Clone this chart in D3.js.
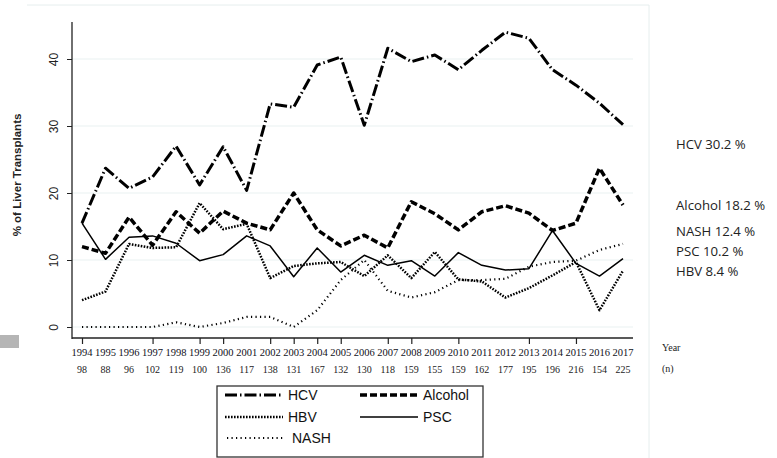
<!DOCTYPE html>
<html>
<head>
	<meta charset="utf-8"/>
	<title>Liver transplant indications</title>
	<script src="https://cdn.jsdelivr.net/npm/d3@7/dist/d3.min.js"></script>
	<style>
		body { margin: 0; background: #fff; }
		svg { display: block; }
	</style>
</head>
<body>
<div id="chart"></div>
<script>
	// years and number of transplants per year (n)
	var years = d3.range(1994, 2018);
	var nPerYear = [98, 88, 96, 102, 119, 100, 136, 117, 138, 131, 167, 132,
		130, 118, 159, 155, 159, 162, 177, 195, 196, 216, 154, 225];
	var tickedYears = [1994, 1997, 1999, 2000, 2002, 2003, 2004, 2005, 2007, 2008, 2010, 2013, 2015];
	var yTicks = [0, 10, 20, 30, 40];

	// % of liver transplants
	var hcv = [15.5, 23.7, 20.7, 22.4, 27.0, 21.2, 26.9, 20.4, 33.3, 32.8, 39.1, 40.3,
		30.1, 41.6, 39.6, 40.6, 38.4, 41.3, 44.0, 43.1, 38.4, 36.1, 33.4, 30.2];
	var alcohol = [12.0, 11.0, 16.4, 12.2, 17.2, 14.0, 17.3, 15.5, 14.5, 20.0, 14.5, 12.1,
		13.7, 11.8, 18.7, 16.9, 14.5, 17.2, 18.1, 17.0, 14.4, 15.5, 23.7, 18.2];
	var hbv = [4.0, 5.3, 12.4, 11.8, 11.9, 18.5, 14.6, 15.4, 7.3, 9.1, 9.5, 9.7,
		7.6, 10.7, 7.3, 11.2, 7.1, 6.8, 4.4, 5.8, 7.7, 9.7, 2.5, 8.4];
	var psc = [15.5, 10.1, 13.4, 13.6, 12.5, 9.9, 10.8, 13.6, 12.1, 7.5, 11.8, 8.2,
		10.7, 9.2, 9.9, 7.6, 11.1, 9.2, 8.5, 8.7, 14.4, 9.5, 7.6, 10.2];
	var nash = [0, 0, 0, 0, 0.7, 0, 0.6, 1.5, 1.5, 0, 2.5, 7.0,
		10.0, 5.4, 4.4, 5.2, 7.0, 7.0, 7.2, 9.0, 9.7, 9.9, 11.5, 12.4];

	var endLabels = ["HCV 30.2 %", "Alcohol 18.2 %", "NASH 12.4 %", "PSC 10.2 %", "HBV 8.4 %"];

	var series = [
		{ name: "HCV", values: hcv, width: 3, dash: "12,3,1.5,3" },
		{ name: "Alcohol", values: alcohol, width: 3.5, dash: "7,3" },
		{ name: "HBV", values: hbv, width: 2.5, dash: "1.6,1.4" },
		{ name: "PSC", values: psc, width: 1.5, dash: null },
		{ name: "NASH", values: nash, width: 2.2, dash: "1.2,3.3" }
	];

	var width = 777, height = 458;

	var svg = d3.select("#chart").append("svg")
		.attr("width", width)
		.attr("height", height);

	var x = d3.scaleLinear().domain([1994, 2017]).range([82, 623]);
	var y = d3.scaleLinear().domain([0, 40]).range([327, 59]);

	// outer plot region frame (faint)
	svg.append("line").attr("x1", 27).attr("x2", 649).attr("y1", 5).attr("y2", 5)
		.attr("stroke", "#e6eeee").attr("stroke-width", 1);
	svg.append("line").attr("x1", 649).attr("x2", 649).attr("y1", 5).attr("y2", height)
		.attr("stroke", "#e6eeee").attr("stroke-width", 1);

	// odd grey block on the left edge
	svg.append("rect").attr("x", 0).attr("y", 335).attr("width", 19).attr("height", 13)
		.attr("fill", "#b5b5b5");

	// gridlines
	svg.append("g").selectAll("line").data(yTicks).join("line")
		.attr("x1", 72).attr("x2", 633)
		.attr("y1", function(d) { return y(d); })
		.attr("y2", function(d) { return y(d); })
		.attr("stroke", "#e9f1f1").attr("stroke-width", 1.2);

	// y axis
	var yAxis = svg.append("g")
		.attr("transform", "translate(72,0)")
		.call(d3.axisLeft(y).tickValues(yTicks).tickSize(5).tickPadding(6));
	yAxis.select(".domain").remove();
	yAxis.selectAll(".tick line").attr("stroke", "#222");
	// rotated tick labels
	yAxis.selectAll(".tick text")
		.attr("font-family", "Liberation Sans, Arial, sans-serif")
		.attr("font-size", 12)
		.attr("fill", "#222")
		.attr("text-anchor", "middle")
		.attr("transform", "translate(-14,0) rotate(-90)")
		.attr("x", 0).attr("y", 0).attr("dy", "0");
	svg.append("line")
		.attr("x1", 72).attr("x2", 72)
		.attr("y1", 22).attr("y2", 339)
		.attr("stroke", "#222").attr("stroke-width", 1.3);

	// y axis title
	svg.append("text")
		.attr("transform", "translate(21,175) rotate(-90)")
		.attr("text-anchor", "middle")
		.attr("font-family", "Liberation Sans, Arial, sans-serif")
		.attr("font-size", 11.5)
		.attr("font-weight", "bold")
		.attr("fill", "#222")
		.text("% of Liver Transplants");

	// x axis
	var xAxis = svg.append("g")
		.attr("transform", "translate(0,338)")
		.call(d3.axisBottom(x).tickValues(tickedYears).tickSize(6).tickFormat(""));
	xAxis.select(".domain").remove();
	xAxis.selectAll(".tick line").attr("stroke", "#222").attr("stroke-width", 1.2);
	svg.append("line")
		.attr("x1", 72).attr("x2", 633)
		.attr("y1", 338).attr("y2", 338)
		.attr("stroke", "#222").attr("stroke-width", 1.4);

	// year and n labels
	svg.append("g").selectAll("text").data(years).join("text")
		.attr("x", function(d) { return x(d); })
		.attr("y", 356)
		.attr("text-anchor", "middle")
		.attr("font-family", "Liberation Serif, Times New Roman, serif")
		.attr("font-size", 9.5)
		.attr("fill", "#112")
		.attr("textLength", 21)
		.attr("lengthAdjust", "spacingAndGlyphs")
		.text(function(d) { return d; });
	svg.append("g").selectAll("text").data(nPerYear).join("text")
		.attr("x", function(d, i) { return x(years[i]); })
		.attr("y", 373)
		.attr("text-anchor", "middle")
		.attr("font-family", "Liberation Serif, Times New Roman, serif")
		.attr("font-size", 10)
		.attr("fill", "#222")
		.text(function(d) { return d; });

	svg.append("text").attr("x", 662).attr("y", 351)
		.attr("font-family", "Liberation Serif, Times New Roman, serif")
		.attr("font-size", 10).attr("fill", "#222").text("Year");
	svg.append("text").attr("x", 662).attr("y", 372)
		.attr("font-family", "Liberation Serif, Times New Roman, serif")
		.attr("font-size", 10).attr("fill", "#222").text("(n)");

	// lines
	var line = d3.line()
		.x(function(d, i) { return x(years[i]); })
		.y(function(d) { return y(d); });

	svg.append("g").selectAll("path").data(series).join("path")
		.attr("d", function(s) { return line(s.values); })
		.attr("fill", "none")
		.attr("stroke", "#000")
		.attr("stroke-width", function(s) { return s.width; })
		.attr("stroke-dasharray", function(s) { return s.dash; })
		.attr("stroke-linejoin", "round");

	// labels at the right
	var endY = [149, 210, 236, 256, 276];
	svg.append("g").selectAll("text").data(endLabels).join("text")
		.attr("x", 676)
		.attr("y", function(d, i) { return endY[i]; })
		.attr("font-family", "Open Sans, Noto Sans, sans-serif")
		.attr("font-size", 13.2)
		.attr("fill", "#222")
		.text(function(d) { return d; });

	// legend
	var legend = svg.append("g");
	legend.append("rect")
		.attr("x", 217).attr("y", 386)
		.attr("width", 266).attr("height", 71)
		.attr("fill", "#fff").attr("stroke", "#333").attr("stroke-width", 1.3);

	var legendPos = {
		"HCV": [225, 395], "Alcohol": [360, 395],
		"HBV": [225, 417], "PSC": [360, 417],
		"NASH": [227, 438]
	};
	series.forEach(function(s) {
		var p = legendPos[s.name];
		legend.append("line")
			.attr("x1", p[0]).attr("x2", p[0] + 58)
			.attr("y1", p[1]).attr("y2", p[1])
			.attr("stroke", "#000")
			.attr("stroke-width", s.width)
			.attr("stroke-dasharray", s.dash);
		legend.append("text")
			.attr("x", s.name == "NASH" ? 292 : p[0] + 63)
			.attr("y", p[1] + 5)
			.attr("font-family", "Liberation Sans, Arial, sans-serif")
			.attr("font-size", 14)
			.attr("fill", "#111")
			.text(s.name);
	});
</script>
</body>
</html>
